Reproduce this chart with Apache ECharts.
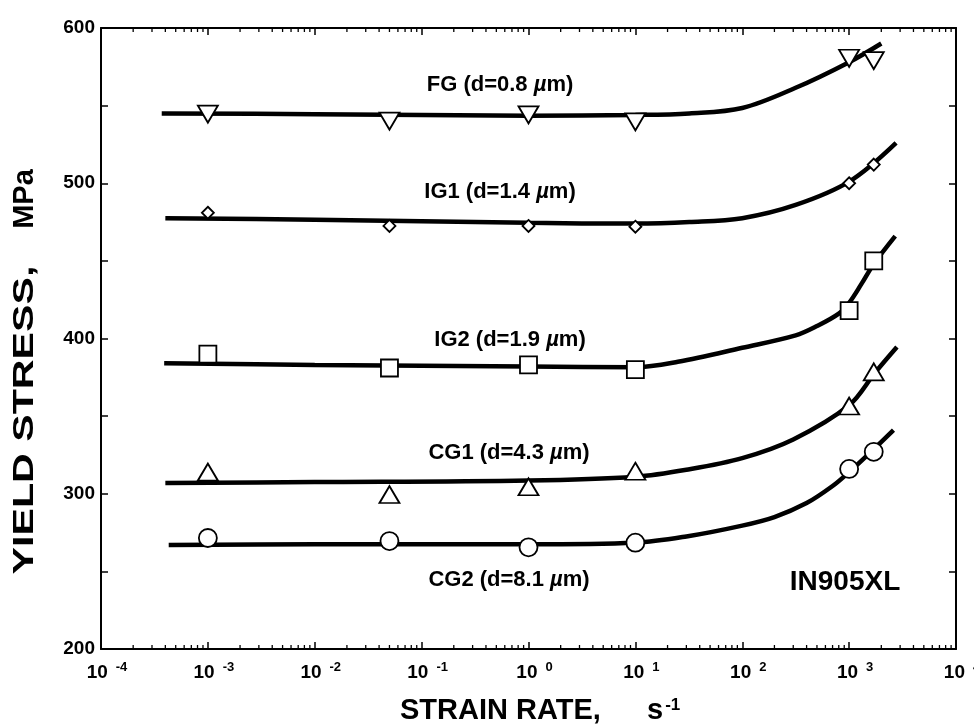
<!DOCTYPE html>
<html>
<head>
<meta charset="utf-8">
<script src="https://cdn.jsdelivr.net/npm/echarts@6/dist/echarts.min.js"></script>
<style>
  html, body { margin: 0; padding: 0; background: #fff; }
  #chart { width: 974px; height: 726px; }
</style>
</head>
<body>
<div id="chart"></div>
<script>
// Measured strain rates (s^-1) shared by every grain size
const markRates = [1e-3, 5e-2, 1, 10, 1e3, 1.7e3];

// Yield stress (MPa) measured at each strain rate
const fgMarks  = [544.5, 540, 544, 539.5, 580.5, 579];
const ig1Marks = [481, 472.5, 472.5, 472, 500, 512];
const ig2Marks = [390, 381, 383, 380, 418, 450];
const cg1Marks = [314, 299.5, 304.5, 314.5, 356.5, 378.5];
const cg2Marks = [271.5, 269.5, 265.5, 268.5, 316, 327];

// Fitted trend curves (strain rate, stress)
const fgFitRates   = [3.7e-4, 1e-2, 1, 10, 32, 100, 316, 1000, 2.0e3];
const fgFitStress  = [545, 544.5, 543.5, 544, 545, 548.5, 561.5, 578, 590];
const ig1FitRates  = [4e-4, 1e-2, 1, 10, 32, 100, 316, 1000, 2.75e3];
const ig1FitStress = [477.5, 476.5, 474.5, 474, 475, 477.5, 486, 501, 526];
const ig2FitRates  = [3.9e-4, 1e-2, 1, 10, 25, 100, 316, 500, 800, 1000, 1.3e3, 1.7e3, 2.7e3];
const ig2FitStress = [384, 383, 382, 381.5, 385, 394, 402, 408, 416, 423, 435, 448, 466];
const cg1FitRates  = [4e-4, 1e-2, 1, 10, 30, 100, 300, 1000, 1.75e3, 2.8e3];
const cg1FitStress = [307, 307.5, 308.5, 311, 315.5, 323, 335, 357, 378, 394.5];
const cg2FitRates  = [4.3e-4, 1e-2, 1, 10, 30, 100, 200, 400, 700, 1000, 1.6e3, 2.6e3];
const cg2FitStress = [267, 267.5, 267.5, 268.5, 272.5, 279.5, 285, 294, 305, 314, 327, 341];

// Curve annotations
const curveNames = ['FG', 'IG1', 'IG2', 'CG1', 'CG2'];
const grainSizes = ['0.8', '1.4', '1.9', '4.3', '8.1'];
const alloyName = 'IN905XL';

// Axis ranges
const xMin = 1e-4, xMax = 1e4;
const yMin = 200, yMax = 600, yStep = 50, yLabelStep = 100;

const FONT = '"Liberation Sans", Arial, Helvetica, sans-serif';

const pair = (xs, ys) => xs.map((x, i) => [x, ys[i]]);

// minor log ticks at 2..9 of every decade
const minorTicks = [];
for (let k = Math.log10(xMin); k < Math.log10(xMax); k++) {
  for (let m = 2; m <= 9; m++) minorTicks.push([m * Math.pow(10, k), yMin]);
}

const chart = echarts.init(document.getElementById('chart'), null, { renderer: 'canvas' });

const fitLine = (xs, ys) => ({
  type: 'line',
  data: pair(xs, ys),
  showSymbol: false,
  smooth: 0.35,
  lineStyle: { color: '#000', width: 4.5 },
  z: 3,
  silent: true
});

const marks = (ys, symbol, size, rotate) => ({
  type: 'scatter',
  data: pair(markRates, ys),
  symbol: symbol,
  symbolSize: size,
  symbolRotate: rotate || 0,
  itemStyle: { color: '#fff', borderColor: '#000', borderWidth: 1.8, opacity: 1 },
  z: 4,
  silent: true
});

const labelText = (i) => '{n|' + curveNames[i] + ' (d=' + grainSizes[i] + ' }{i|\u00b5}{n|m)}';
const labelRich = {
  n: { fontFamily: FONT, fontWeight: 'bold', fontSize: 22, fill: '#000' },
  i: { fontFamily: FONT, fontWeight: 'bold', fontStyle: 'italic', fontSize: 22, fill: '#000' }
};
const labelPos = [[500, 85], [500, 192], [510, 340], [509, 453], [509, 580]];

const option = {
  animation: false,
  backgroundColor: '#fff',
  grid: { left: 101, right: 18, top: 28, bottom: 77, containLabel: false, outerBoundsMode: 'none' },
  xAxis: [
    {
      type: 'log', logBase: 10, min: xMin, max: xMax, position: 'bottom',
      splitNumber: 8,
      axisLine: { lineStyle: { color: '#000', width: 2 } },
      axisTick: { inside: true, length: 7, lineStyle: { color: '#000', width: 1.5 } },
      splitLine: { show: false },
      axisLabel: {
        margin: 12,
        hideOverlap: false,
        formatter: (v) => '{b|10}{e|' + Math.round(Math.log10(v)) + '}',
        rich: {
          b: { fontFamily: FONT, fontWeight: 'bold', fontSize: 19, color: '#000', padding: [0, 0, 0, 12] },
          e: { fontFamily: FONT, fontWeight: 'bold', fontSize: 13, color: '#000', padding: [0, 0, 11, 8] }
        }
      }
    },
    {
      type: 'log', logBase: 10, min: xMin, max: xMax, position: 'top',
      splitNumber: 8,
      axisLine: { lineStyle: { color: '#000', width: 2 } },
      axisTick: { inside: true, length: 7, lineStyle: { color: '#000', width: 1.5 } },
      splitLine: { show: false },
      axisLabel: { show: false }
    }
  ],
  yAxis: [
    {
      type: 'value', min: yMin, max: yMax, interval: yStep, position: 'left',
      axisLine: { show: true, lineStyle: { color: '#000', width: 2 } },
      axisTick: { inside: true, length: 7, lineStyle: { color: '#000', width: 1.5 } },
      splitLine: { show: false },
      axisLabel: {
        show: true, margin: 6, color: '#000',
        fontFamily: FONT, fontWeight: 'bold', fontSize: 19,
        formatter: (v) => (v % yLabelStep === 0 ? String(v) : '')
      }
    },
    {
      type: 'value', min: yMin, max: yMax, interval: yStep, position: 'right',
      axisLine: { show: true, lineStyle: { color: '#000', width: 2 } },
      axisTick: { inside: true, length: 7, lineStyle: { color: '#000', width: 1.5 } },
      splitLine: { show: false },
      axisLabel: { show: false }
    }
  ],
  series: [
    {
      type: 'custom',
      data: minorTicks,
      silent: true,
      z: 6,
      renderItem: (params, api) => {
        const b = api.coord([api.value(0), yMin]);
        const t = api.coord([api.value(0), yMax]);
        const st = { stroke: '#000', lineWidth: 1.3 };
        return {
          type: 'group',
          children: [
            { type: 'line', shape: { x1: b[0], y1: b[1], x2: b[0], y2: b[1] - 4 }, style: st },
            { type: 'line', shape: { x1: t[0], y1: t[1], x2: t[0], y2: t[1] + 4 }, style: st }
          ]
        };
      }
    },
    fitLine(fgFitRates, fgFitStress),
    fitLine(ig1FitRates, ig1FitStress),
    fitLine(ig2FitRates, ig2FitStress),
    fitLine(cg1FitRates, cg1FitStress),
    fitLine(cg2FitRates, cg2FitStress),
    marks(fgMarks, 'triangle', [20, 17], 180),
    marks(ig1Marks, 'diamond', [12, 12], 0),
    marks(ig2Marks, 'rect', [17, 17], 0),
    marks(cg1Marks, 'triangle', [20, 17], 0),
    marks(cg2Marks, 'circle', [18, 18], 0)
  ],
  graphic: [
    ...labelPos.map((p, i) => ({
      type: 'text', x: p[0], y: p[1],
      style: { text: labelText(i), rich: labelRich, align: 'center', verticalAlign: 'middle' }
    })),
    {
      type: 'text', x: 845, y: 582,
      style: { text: alloyName, fontFamily: FONT, fontWeight: 'bold', fontSize: 28, fill: '#000', align: 'center', verticalAlign: 'middle' }
    },
    {
      type: 'text', x: 400, y: 711,
      style: { text: 'STRAIN RATE,', fontFamily: FONT, fontWeight: 'bold', fontSize: 29, fill: '#000', align: 'left', verticalAlign: 'middle' }
    },
    {
      type: 'text', x: 647, y: 711,
      style: {
        text: '{t|s}{s|-1}',
        align: 'left', verticalAlign: 'middle',
        rich: {
          t: { fontFamily: FONT, fontWeight: 'bold', fontSize: 29, fill: '#000' },
          s: { fontFamily: FONT, fontWeight: 'bold', fontSize: 17, fill: '#000', padding: [0, 0, 12, 2] }
        }
      }
    },
    {
      type: 'text', x: 25, y: 420, rotation: Math.PI / 2, scaleX: 1.42,
      style: {
        text: 'YIELD STRESS,',
        fontFamily: FONT, fontWeight: 'bold', fontSize: 29, fill: '#000',
        align: 'center', verticalAlign: 'middle'
      }
    },
    {
      type: 'text', x: 25, y: 199, rotation: Math.PI / 2,
      style: {
        text: 'MPa',
        fontFamily: FONT, fontWeight: 'bold', fontSize: 29, fill: '#000',
        align: 'center', verticalAlign: 'middle'
      }
    }
  ]
};

chart.setOption(option);
</script>
</body>
</html>
